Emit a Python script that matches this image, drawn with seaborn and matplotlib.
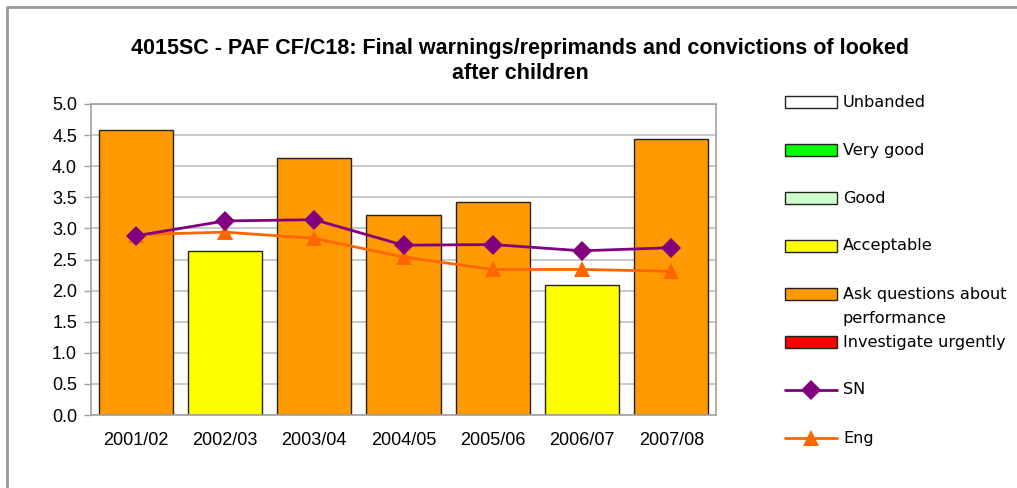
import numpy as np
import pandas as pd
import seaborn as sns
import matplotlib.pyplot as plt
from matplotlib.patches import Rectangle
from matplotlib.lines import Line2D

years = ["2001/02", "2002/03", "2003/04", "2004/05", "2005/06", "2006/07", "2007/08"]
values = [4.58, 2.64, 4.13, 3.21, 3.42, 2.09, 4.44]
bands = ["Ask questions about performance", "Acceptable", "Ask questions about performance",
         "Ask questions about performance", "Ask questions about performance", "Acceptable",
         "Ask questions about performance"]
sn = [2.88, 3.12, 3.14, 2.73, 2.74, 2.64, 2.69]
eng = [2.90, 2.94, 2.84, 2.54, 2.34, 2.34, 2.31]

band_colors = {
    "Unbanded": "#FFFFFF",
    "Very good": "#00FF00",
    "Good": "#CCFFCC",
    "Acceptable": "#FFFF00",
    "Ask questions about performance": "#FF9900",
    "Investigate urgently": "#FF0000",
}

sns.set_style("white")
plt.rcParams["font.family"] = ["Liberation Sans", "DejaVu Sans"]
plt.rcParams["text.color"] = "black"
plt.rcParams["xtick.color"] = "black"
plt.rcParams["ytick.color"] = "black"

df = pd.DataFrame({"year": years, "value": values, "band": bands})

fig = plt.figure(figsize=(10.17, 4.88), dpi=100)
ax = fig.add_axes([91 / 1017, 1 - 415 / 488, 625 / 1017, 311 / 488])

# bars coloured by band
sns.barplot(data=df, x="year", y="value", hue="year",
            palette=[band_colors[b] for b in bands], legend=False, saturation=1,
            width=0.83, edgecolor="#222222", linewidth=1, ax=ax, zorder=2)

x = np.arange(len(years))
sns.lineplot(x=x, y=sn, color="#800080", marker="D", markersize=10,
             markeredgewidth=0, linewidth=2, ax=ax, zorder=4)
sns.lineplot(x=x, y=eng, color="#FF6600", marker="^", markersize=12,
             markeredgewidth=0, linewidth=2, ax=ax, zorder=3)

ax.set_xlim(-0.5, len(years) - 0.5)
ax.set_ylim(0, 5)
ax.set_yticks(np.arange(0, 5.01, 0.5))
ax.set_yticklabels([f"{v:.1f}" for v in np.arange(0, 5.01, 0.5)], fontsize=13)
ax.set_xticks(x)
ax.set_xticklabels(years, fontsize=13)
ax.set_xticks(np.arange(-0.5, len(years), 1), minor=True)
ax.tick_params(axis="x", which="major", length=0, pad=12)
ax.tick_params(axis="x", which="minor", length=5, color="#A0A0A0", width=1)
ax.tick_params(axis="y", length=5, color="#A0A0A0", labelcolor="black", width=1, pad=5, left=True)
ax.set_xlabel("")
ax.set_ylabel("")
ax.yaxis.grid(True, color="#C0C0C0", linewidth=1.2, zorder=0)
ax.set_axisbelow(True)
for s in ax.spines.values():
    s.set_color("#A0A0A0")
    s.set_linewidth(1.2)

fig.text(520 / 1017, 1 - 61 / 488,
         "4015SC - PAF CF/C18: Final warnings/reprimands and convictions of looked\nafter children",
         ha="center", va="center", fontsize=15.5, fontweight="bold", linespacing=1.3)

# manual legend
legend_items = [("Unbanded", band_colors["Unbanded"], "patch"),
                ("Very good", band_colors["Very good"], "patch"),
                ("Good", band_colors["Good"], "patch"),
                ("Acceptable", band_colors["Acceptable"], "patch"),
                ("Ask questions about", band_colors["Ask questions about performance"], "patch"),
                ("Investigate urgently", band_colors["Investigate urgently"], "patch"),
                ("SN", "#800080", "D"),
                ("Eng", "#FF6600", "^")]
W, H = 1017, 488
for i, (label, color, kind) in enumerate(legend_items):
    yc = 102 + 48 * i
    if kind == "patch":
        fig.patches.append(Rectangle((785 / W, 1 - (yc + 6) / H), 52 / W, 12 / H,
                                     transform=fig.transFigure, facecolor=color,
                                     edgecolor="#222222", linewidth=1))
    else:
        fig.lines.append(Line2D([785 / W, 837 / W], [1 - yc / H] * 2, transform=fig.transFigure,
                                color=color, linewidth=2))
        fig.lines.append(Line2D([811 / W], [1 - yc / H], transform=fig.transFigure,
                                color=color, marker=kind, markersize=10 if kind == "D" else 12,
                                markeredgewidth=0, linestyle="none"))
    fig.text(843 / W, 1 - yc / H, label, ha="left", va="center", fontsize=11.6,
             family=["DejaVu Sans"])
    if i == 4:
        fig.text(843 / W, 1 - (yc + 24) / H, "performance", ha="left", va="center",
                 fontsize=11.6, family=["DejaVu Sans"])

# outer chart border (top and left visible)
fig.lines.append(Line2D([7 / W, 7 / W, 1.0], [0.0, 1 - 7 / H, 1 - 7 / H],
                        transform=fig.transFigure, color="#999999", linewidth=2))

fig.savefig("out.png", dpi=100)
